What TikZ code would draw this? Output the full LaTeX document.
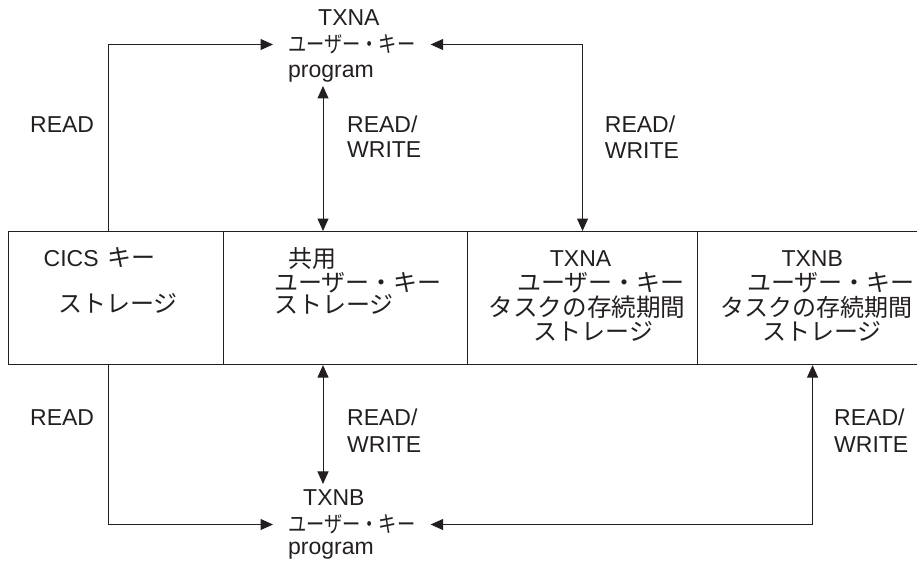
\documentclass[tikz,border=0pt]{standalone}
\usepackage{fontspec}
\usepackage{graphicx}
\setmainfont{Liberation Sans}
\newfontfamily\jp{Noto Sans CJK JP}
\usetikzlibrary{arrows.meta}
\definecolor{ink}{HTML}{231F20}
\newcommand{\narrowjp}[1]{\scalebox{0.81}[1]{#1}}
\begin{document}
\begin{tikzpicture}[x=1pt,y=-1pt,
  lat/.style={font=\fontsize{23}{27}\selectfont, inner sep=0pt, anchor=base west, text=ink},
  jpb/.style={font=\jp\fontsize{24}{28}\selectfont, inner sep=0pt, anchor=west, text=ink},
  jpw/.style={jpb, font=\jp\fontsize{24.6}{28}\selectfont},
  jpl/.style={font=\jp\fontsize{22.5}{26}\selectfont, inner xsep=15pt, inner ysep=0pt, anchor=west, text=ink},
  cellbox/.style={draw=ink, line width=1.1pt, rectangle, anchor=north west, minimum height=133pt, inner sep=0pt},
  conn/.style={draw=ink, line width=1pt},
  tip/.style={-{Triangle[length=12.5pt,width=11pt]}},
  tips/.style={{Triangle[length=12.5pt,width=11pt]}-{Triangle[length=12.5pt,width=11pt]}}]
\useasboundingbox (0,0) rectangle (917,565);
% storage cells
\node[cellbox, minimum width=215pt] (c1) at (8,231) {};
\node[cellbox, minimum width=244pt] (c2) at (223,231) {};
\node[cellbox, minimum width=230pt] (c3) at (467,231) {};
\node[cellbox, minimum width=230pt] (c4) at (697,231) {};
% cell texts
\node[lat] (c1a) at (43.5,266) {CICS};
\node[jpb] (c1b) at (107,258) {キー};
\node[jpb] (c1c) at (58,303.5) {ストレージ};
\node[jpb] (c2a) at (288,258.5) {共用};
\node[jpb] (c2b) at (274,282.5) {ユーザー・キー};
\node[jpb] (c2c) at (274,304.5) {ストレージ};
\node[lat] (c3a) at (549.7,266) {TXNA};
\node[jpb] (c3b) at (517,283) {ユーザー・キー};
\node[jpw] (c3c) at (488.5,307.5) {タスクの存続期間};
\node[jpb] (c3d) at (533.5,331) {ストレージ};
\node[lat] (c4a) at (781.3,266) {TXNB};
\node[jpb] (c4b) at (747,283) {ユーザー・キー};
\node[jpb] (c4c) at (720,307.5) {タスクの存続期間};
\node[jpb] (c4d) at (762,331) {ストレージ};
% TXNA program
\node[lat] (ta1) at (318,25) {TXNA};
\node[jpl] (ta2) at (273,44.5) {\narrowjp{ユーザー・キー}};
\node[lat] (ta3) at (288,77) {program};
% TXNB program
\node[lat] (tb1) at (303,505) {TXNB};
\node[jpl] (tb2) at (273,524.5) {\narrowjp{ユーザー・キー}};
\node[lat] (tb3) at (288,554) {program};
% labels
\node[lat] (l1) at (30,132) {READ};
\node[lat] (l2a) at (347,132) {READ/};
\node[lat] (l2b) at (347,157) {WRITE};
\node[lat] (l3a) at (604.7,132) {READ/};
\node[lat] (l3b) at (604.7,158) {WRITE};
\node[lat] (l4) at (30,425) {READ};
\node[lat] (l5a) at (347,425) {READ/};
\node[lat] (l5b) at (347,452) {WRITE};
\node[lat] (l6a) at (834,425) {READ/};
\node[lat] (l6b) at (834,452) {WRITE};
% connectors
\coordinate (xl) at (108,0);
\coordinate (xm) at (323,0);
\draw[conn, tip] (c1.north -| xl) |- (ta2.west);
\draw[conn, tips] (ta2.east) -| (c3.north);
\draw[conn, tips, shorten <=4pt] (ta3.south -| xm) -- (c2.north -| xm);
\draw[conn, tip] (c1.south -| xl) |- (tb2.west);
\draw[conn, tips] (tb2.east) -| (c4.south);
\draw[conn, tips, shorten >=5pt] (c2.south -| xm) -- (tb1.north -| xm);
\end{tikzpicture}
\end{document}
